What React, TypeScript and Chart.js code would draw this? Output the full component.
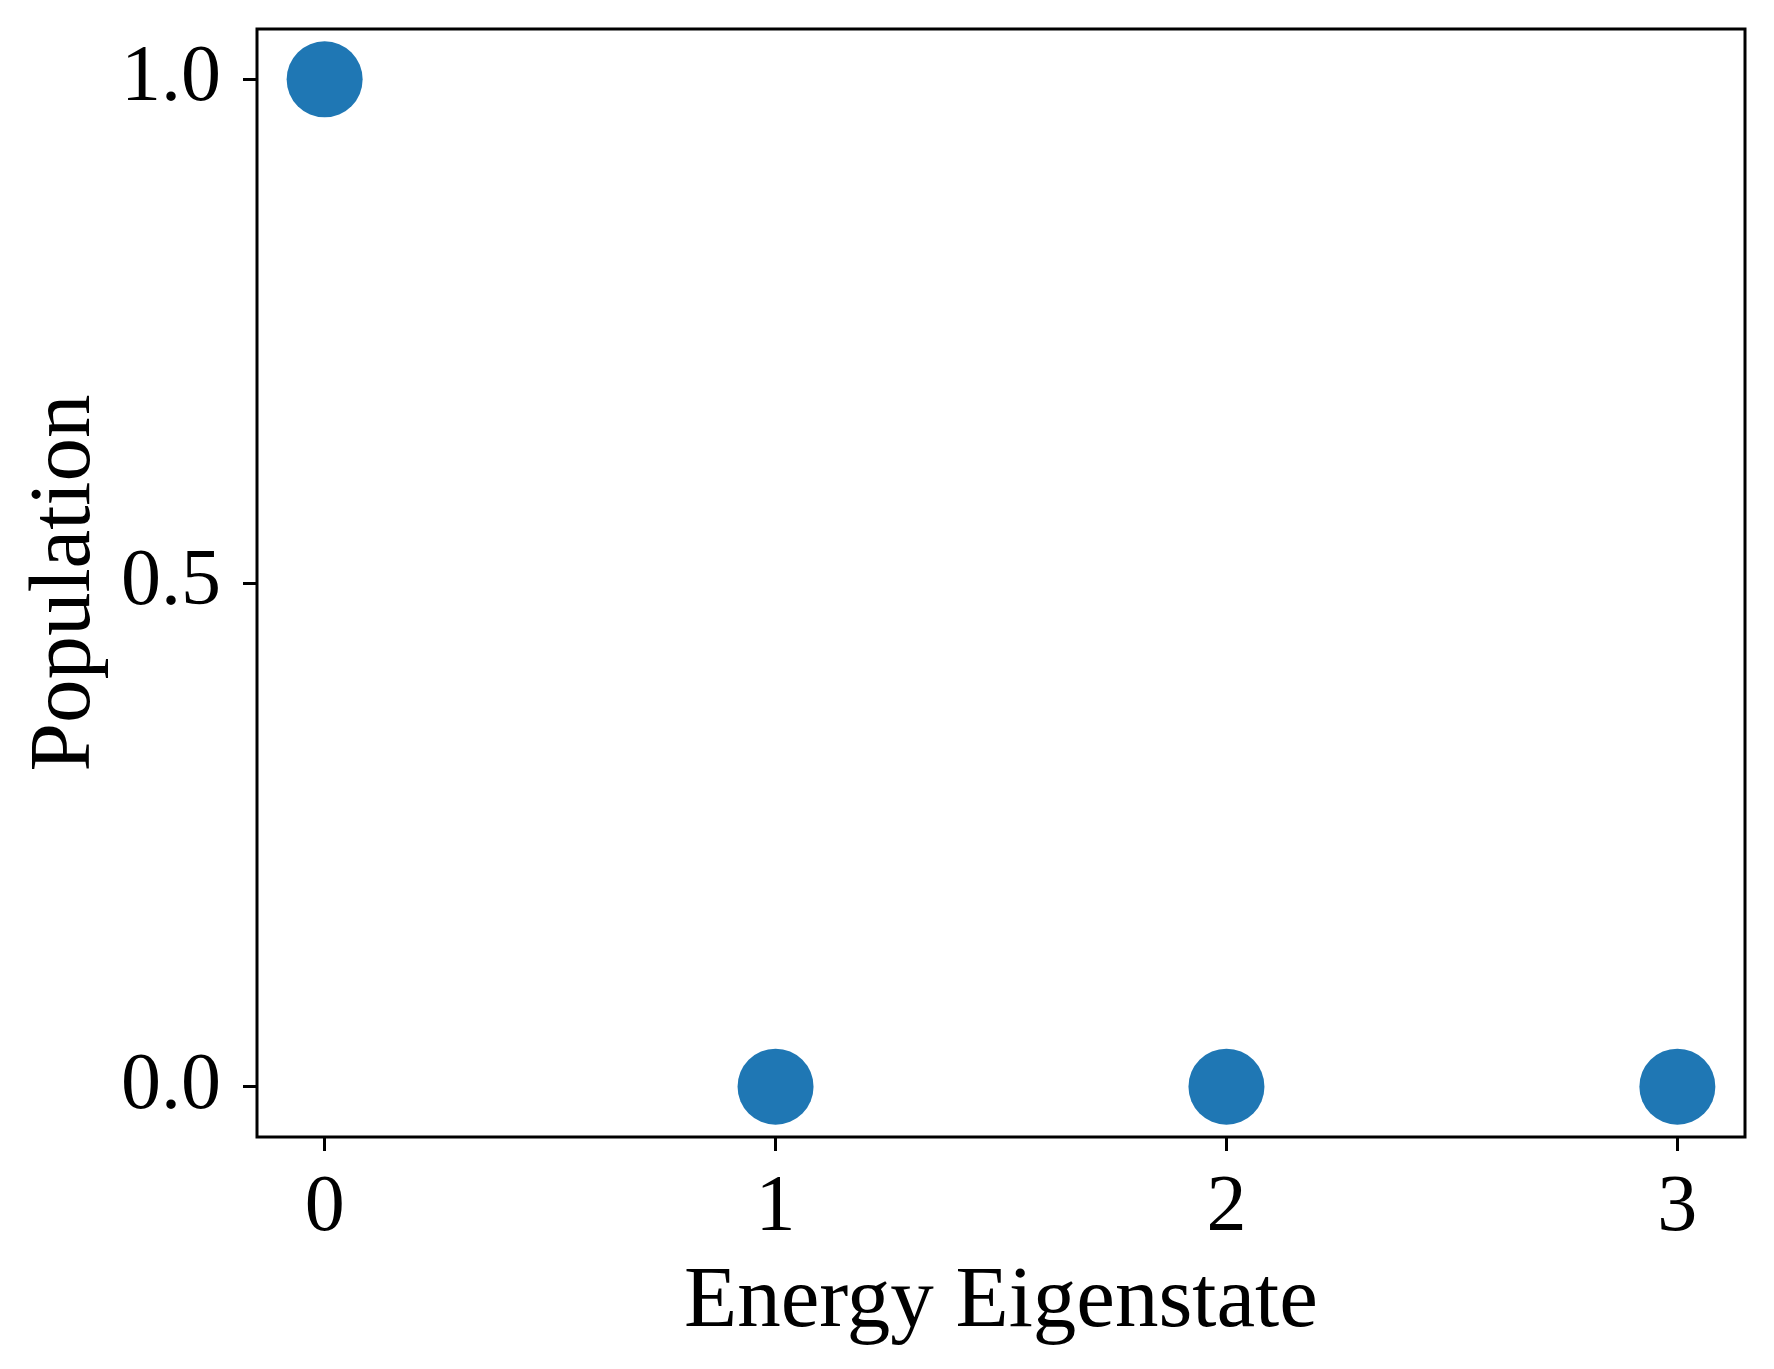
import React, { useEffect, useRef } from "react";
import { Chart, registerables } from "chart.js";

Chart.register(...registerables);

const states = [0, 1, 2, 3];
const populations = [1.0, 0.0, 0.0, 0.0];
const xTicks = [0, 1, 2, 3];
const yTicks = [0.0, 0.5, 1.0];

const W = 1774;
const H = 1369;
const FONT = "'Liberation Serif', 'DejaVu Serif', serif";

const frame = {
  id: "frame",
  afterDraw(chart: any) {
    const { ctx, chartArea } = chart;
    ctx.save();
    ctx.strokeStyle = "#000";
    ctx.lineWidth = 3;
    ctx.strokeRect(chartArea.left, chartArea.top, chartArea.right - chartArea.left, chartArea.bottom - chartArea.top);
    ctx.restore();
  },
};

export default function App() {
  const ref = useRef<HTMLCanvasElement | null>(null);
  useEffect(() => {
    document.body.style.margin = "0";
    const chart = new Chart(ref.current as HTMLCanvasElement, {
      type: "scatter",
      data: {
        datasets: [
          {
            data: states.map((s, i) => ({ x: s, y: populations[i] })),
            backgroundColor: "#1f77b4",
            borderWidth: 0,
            pointRadius: 38,
            pointHoverRadius: 38,
            clip: false,
          },
        ],
      },
      options: {
        responsive: false,
        animation: false,
        events: [],
        layout: { autoPadding: false, padding: { top: 29, right: 29, left: 0, bottom: 0 } },
        plugins: { legend: { display: false }, tooltip: { enabled: false } },
        scales: {
          x: {
            type: "linear",
            min: -0.15,
            max: 3.15,
            afterBuildTicks: (s: any) => {
              s.ticks = xTicks.map((v) => ({ value: v }));
            },
            afterFit: (s: any) => {
              s.height = 232;
              s.paddingLeft = 0;
              s.paddingRight = 0;
            },
            ticks: {
              color: "#000",
              font: { family: FONT, size: 80 },
              padding: 10,
              maxRotation: 0,
              callback: (v: any) => String(v),
            },
            grid: { drawOnChartArea: false, tickLength: 14, tickWidth: 3, tickColor: "#000" },
            border: { display: false },
            title: {
              display: true,
              text: "Energy Eigenstate",
              color: "#000",
              font: { family: FONT, size: 87 },
              padding: { top: 0, bottom: 14 },
            },
          },
          y: {
            type: "linear",
            min: -0.05,
            max: 1.05,
            afterBuildTicks: (s: any) => {
              s.ticks = yTicks.map((v) => ({ value: v }));
            },
            afterFit: (s: any) => {
              s.width = 257;
              s.paddingTop = 0;
              s.paddingBottom = 0;
            },
            ticks: {
              color: "#000",
              font: { family: FONT, size: 80 },
              padding: 22,
              callback: (v: any) => Number(v).toFixed(1),
            },
            grid: { drawOnChartArea: false, tickLength: 14, tickWidth: 3, tickColor: "#000" },
            border: { display: false },
            title: {
              display: true,
              text: "Population",
              color: "#000",
              font: { family: FONT, size: 87 },
              padding: { top: 14, bottom: 0 },
            },
          },
        },
      },
      plugins: [frame],
    });
    return () => chart.destroy();
  }, []);
  return <canvas ref={ref} width={W} height={H} style={{ display: "block" }} />;
}
